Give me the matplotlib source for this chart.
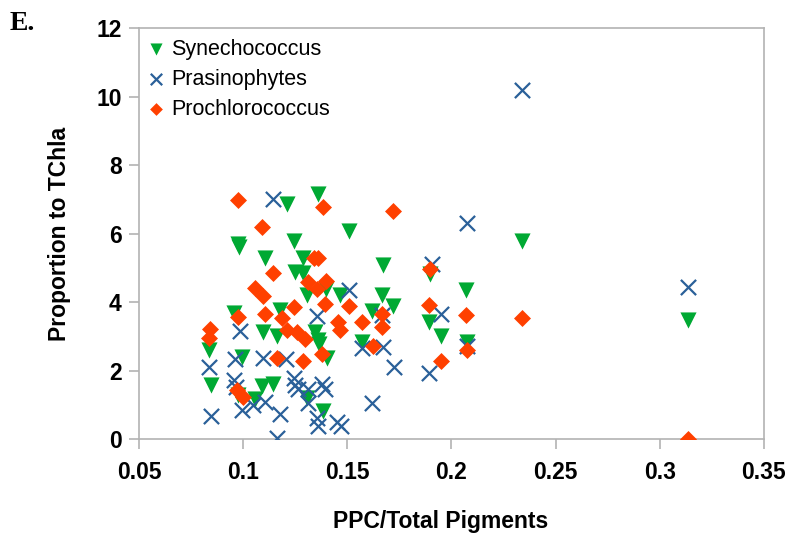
import numpy as np
import matplotlib.pyplot as plt

plt.rcParams['font.family'] = ['Liberation Sans', 'DejaVu Sans']

# PPC/Total pigments (x) vs. proportion of each group to TChla (y)
syn_x = [0.0834, 0.0845, 0.0957, 0.0975, 0.0980, 0.0994, 0.0977, 0.1057, 0.1090,
         0.1097, 0.1105, 0.1142, 0.1162, 0.1177, 0.1210, 0.1246, 0.1249, 0.1289,
         0.1289, 0.1305, 0.1305, 0.1345, 0.1361, 0.1366, 0.1361, 0.1385, 0.1401,
         0.1398, 0.1465, 0.1510, 0.1569, 0.1617, 0.1665, 0.1673, 0.1720, 0.1897,
         0.1893, 0.1950, 0.2071, 0.2075, 0.2340, 0.3135]
syn_y = [2.60, 1.58, 3.68, 5.70, 5.60, 2.40, 1.28, 1.16, 1.55,
         3.13, 5.30, 1.62, 3.00, 3.78, 6.87, 5.80, 4.88, 4.86,
         5.29, 4.20, 1.20, 3.12, 2.89, 2.78, 7.15, 0.82, 2.36,
         4.38, 4.22, 6.08, 2.84, 3.75, 4.22, 5.10, 3.88, 4.82,
         3.42, 3.01, 4.35, 2.84, 5.78, 3.48]

pras_x = [0.0834, 0.0845, 0.0957, 0.0962, 0.0966, 0.0986, 0.0994, 0.1045, 0.1097,
          0.1105, 0.1142, 0.1162, 0.1177, 0.1206, 0.1246, 0.1249, 0.1265, 0.1313,
          0.1313, 0.1353, 0.1353, 0.1361, 0.1377, 0.1393, 0.1449, 0.1468, 0.1510,
          0.1569, 0.1617, 0.1665, 0.1673, 0.1724, 0.1893, 0.1905, 0.1950, 0.2077,
          0.2075, 0.2340, 0.3135]
pras_y = [2.11, 0.68, 1.72, 2.34, 1.52, 3.17, 0.85, 1.00, 2.36,
          1.09, 7.01, 0.03, 0.75, 2.35, 1.80, 1.58, 1.48, 1.48,
          1.06, 3.60, 0.62, 0.38, 1.60, 1.48, 0.50, 0.38, 4.36,
          2.65, 1.05, 3.62, 2.70, 2.11, 1.92, 5.12, 3.67, 6.30,
          2.72, 10.21, 4.44]

proc_x = [0.0842, 0.0834, 0.0975, 0.0977, 0.0970, 0.1001, 0.1057, 0.1090, 0.1097,
          0.1105, 0.1142, 0.1162, 0.1186, 0.1210, 0.1246, 0.1257, 0.1286, 0.1297,
          0.1313, 0.1342, 0.1361, 0.1353, 0.1377, 0.1385, 0.1393, 0.1398, 0.1457,
          0.1465, 0.1510, 0.1569, 0.1622, 0.1665, 0.1665, 0.1720, 0.1897, 0.1893,
          0.1950, 0.2072, 0.2075, 0.2340, 0.3135]
proc_y = [3.22, 2.96, 6.98, 3.57, 1.43, 1.24, 4.42, 6.20, 4.18,
          3.67, 4.86, 2.37, 3.55, 3.20, 3.86, 3.13, 2.29, 2.92,
          4.60, 5.28, 5.28, 4.40, 2.50, 6.78, 3.95, 4.62, 3.42,
          3.18, 3.88, 3.42, 2.72, 3.67, 3.28, 6.67, 4.98, 3.91,
          2.28, 3.64, 2.60, 3.55, 0.00]

fig = plt.figure(figsize=(7.99, 5.33), dpi=100)
ax = fig.add_axes([0.174, 0.176, 0.782, 0.771])

ax.scatter(syn_x, syn_y, marker='v', s=135, color='#00a933', linewidths=0,
           label='Synechococcus', zorder=3)
ax.scatter(pras_x, pras_y, marker='x', s=120, color='#2a6099', linewidths=1.6,
           label='Prasinophytes', zorder=3)
ax.scatter(proc_x, proc_y, marker='D', s=75, color='#ff4000', linewidths=0,
           label='Prochlorococcus', zorder=3)

ax.set_xlim(0.05, 0.35)
ax.set_ylim(0, 12)
ax.set_xticks(np.arange(0.05, 0.351, 0.05))
ax.set_xticklabels(['0.05', '0.1', '0.15', '0.2', '0.25', '0.3', '0.35'])
ax.set_yticks(range(0, 13, 2))

for sp in ax.spines.values():
    sp.set_color('#b3b3b3')
    sp.set_linewidth(1.2)
ax.tick_params(direction='out', length=7.5, width=1.2, color='#b3b3b3',
               labelsize=16.5, pad=5)
ax.tick_params(axis='x', pad=8)
for lab in ax.get_xticklabels() + ax.get_yticklabels():
    lab.set_fontweight('bold')

ax.set_xlabel('PPC/Total Pigments', fontsize=16.5, fontweight='bold')
ax.xaxis.set_label_coords(0.482, -0.172)
ax.set_ylabel('Proportion to TChla', fontsize=16.5, fontweight='bold', labelpad=18)

ax.legend(loc='upper left', bbox_to_anchor=(0.0, 0.995), frameon=False,
          fontsize=15.5, markerscale=0.75, handlelength=0.8, handletextpad=0.3,
          labelspacing=0.42, borderaxespad=0.2, borderpad=0.2)

fig.text(0.012, 0.955, 'E.', fontsize=20, fontweight='bold',
         family=['Liberation Serif', 'DejaVu Serif'], va='center')

fig.savefig('out.png', dpi=100)
